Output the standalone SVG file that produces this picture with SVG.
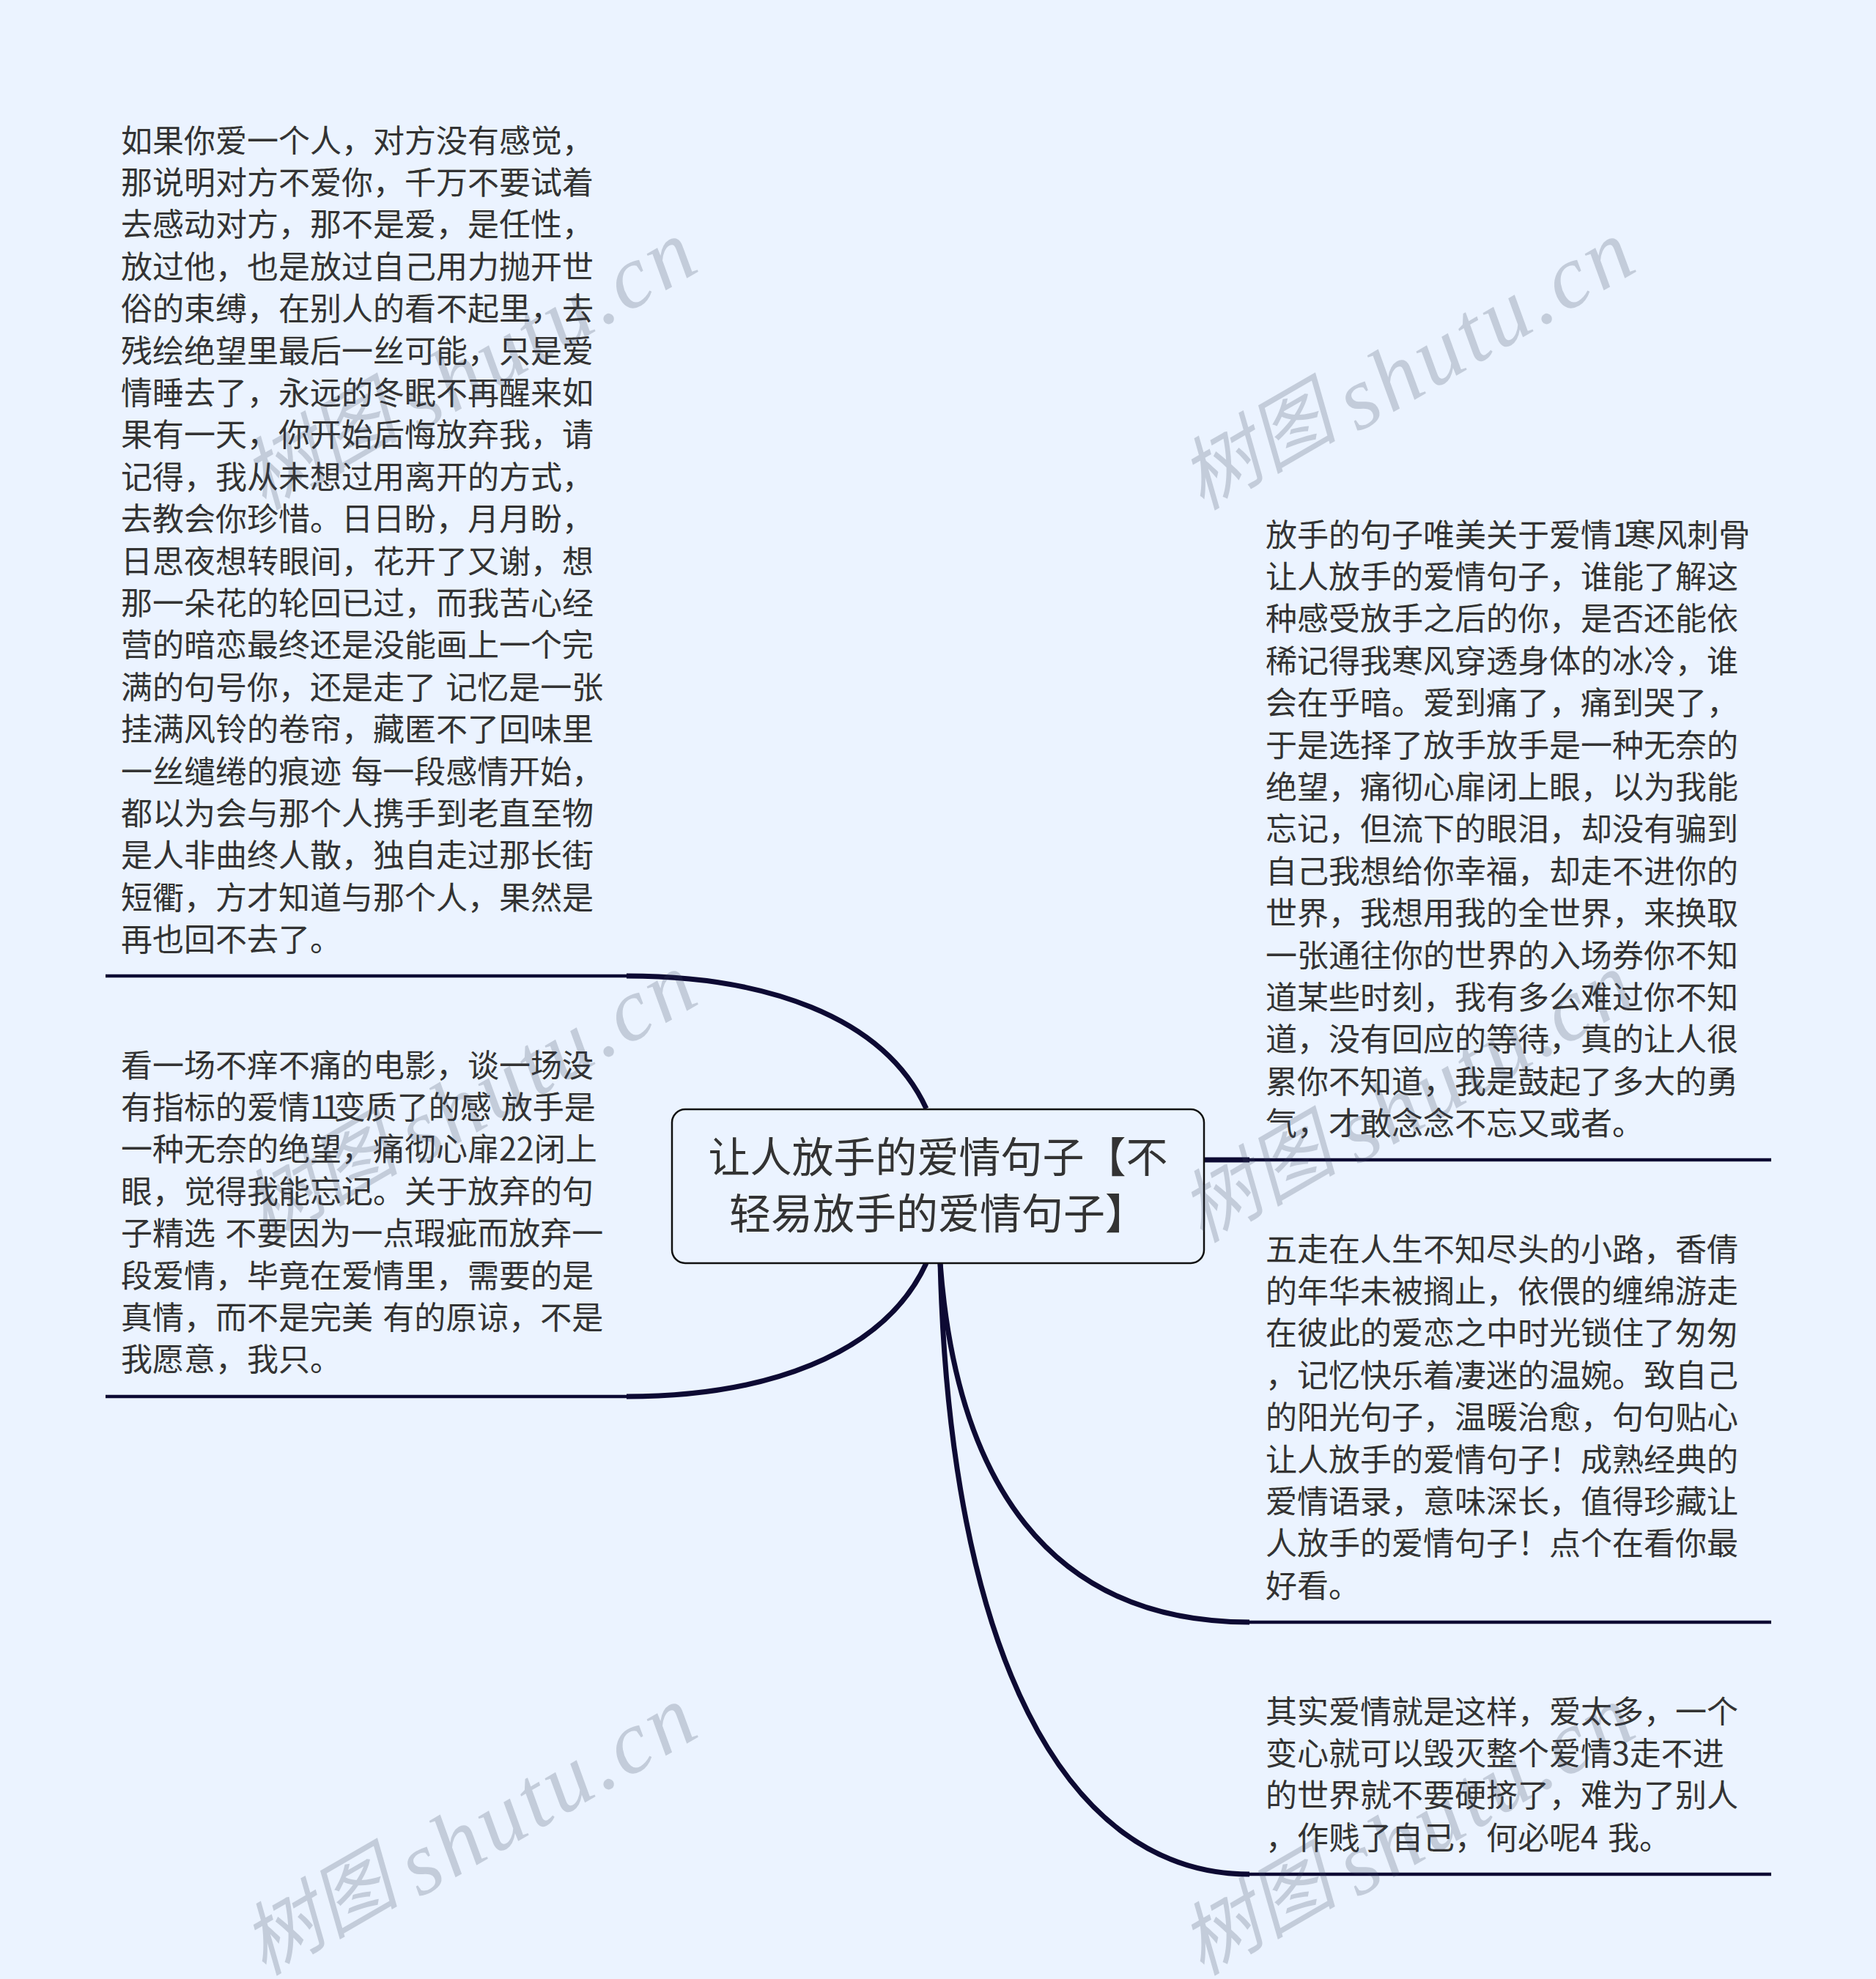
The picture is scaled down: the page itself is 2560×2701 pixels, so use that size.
<svg xmlns="http://www.w3.org/2000/svg" width="2560" height="2701" viewBox="0 0 2560 2701">
<defs>
<style>
.t{font-family:"Noto Sans CJK SC","Liberation Sans",sans-serif;font-size:43px;fill:#333;white-space:pre;word-spacing:3.5px}
.n{letter-spacing:-7.5px}
.r{font-family:"Noto Sans CJK SC","Liberation Sans",sans-serif;font-size:57px;fill:#333;text-anchor:middle}
.w{font-family:"Liberation Serif","Noto Sans CJK SC",serif;font-style:italic;font-size:108px;fill:#38445c;opacity:.22}
.l{font-size:122px;letter-spacing:5px}
.c{fill:none;stroke:#0d0a33;stroke-linecap:butt;stroke-width:7}
.h{fill:none;stroke:#0d0a33;stroke-width:4.5}
</style>
<text id="wm" class="w" transform="rotate(-30)">树图 <tspan class="l" dy="14" dx="-6">shutu.cn</tspan></text>
</defs>
<rect width="2560" height="2701" fill="#ebf3ff"/>
<g id="connectors">
<path class="c" d="M1264 1513C1205 1385 1040 1332 855 1332"/><path class="h" d="M856 1332H144"/>
<path class="c" d="M1264 1724C1205 1852 1040 1906 855 1906"/><path class="h" d="M856 1906H144"/>
<path class="c" d="M1643 1583H1705"/><path class="h" d="M1705 1583H2417"/>
<path class="c" d="M1283 1724C1305 2020 1430 2214 1705 2214"/><path class="h" d="M1705 2214H2417"/>
<path class="c" d="M1283 1724C1296 2250 1450 2558 1705 2558"/><path class="h" d="M1705 2558H2417"/>
</g>
<g id="root">
<rect x="917" y="1514" width="726" height="210" rx="18" fill="#ebf3ff" stroke="#111" stroke-width="2.5"/>
<text class="r" x="1280" y="1600">让人放手的爱情句子【不</text>
<text class="r" x="1280" y="1677">轻易放手的爱情句子】</text>
</g>
<g id="node-left-1" transform="translate(-1 0.5)">
<text class="t" x="166" y="207">如果你爱一个人，对方没有感觉，</text>
<text class="t" x="166" y="264.4">那说明对方不爱你，千万不要试着</text>
<text class="t" x="166" y="321.8">去感动对方，那不是爱，是任性，</text>
<text class="t" x="166" y="379.2">放过他，也是放过自己用力抛开世</text>
<text class="t" x="166" y="436.6">俗的束缚，在别人的看不起里，去</text>
<text class="t" x="166" y="494">残绘绝望里最后一丝可能，只是爱</text>
<text class="t" x="166" y="551.4">情睡去了，永远的冬眠不再醒来如</text>
<text class="t" x="166" y="608.8">果有一天，你开始后悔放弃我，请</text>
<text class="t" x="166" y="666.2">记得，我从未想过用离开的方式，</text>
<text class="t" x="166" y="723.6">去教会你珍惜。日日盼，月月盼，</text>
<text class="t" x="166" y="781">日思夜想转眼间，花开了又谢，想</text>
<text class="t" x="166" y="838.4">那一朵花的轮回已过，而我苦心经</text>
<text class="t" x="166" y="895.8">营的暗恋最终还是没能画上一个完</text>
<text class="t" x="166" y="953.2">满的句号你，还是走了 记忆是一张</text>
<text class="t" x="166" y="1010.6">挂满风铃的卷帘，藏匿不了回味里</text>
<text class="t" x="166" y="1068">一丝缱绻的痕迹 每一段感情开始，</text>
<text class="t" x="166" y="1125.4">都以为会与那个人携手到老直至物</text>
<text class="t" x="166" y="1182.8">是人非曲终人散，独自走过那长街</text>
<text class="t" x="166" y="1240.2">短衢，方才知道与那个人，果然是</text>
<text class="t" x="166" y="1297.6">再也回不去了。</text>
</g>
<g id="node-left-2" transform="translate(-1 0.5)">
<text class="t" x="166" y="1469">看一场不痒不痛的电影，谈一场没</text>
<text class="t" x="166" y="1526.4">有指标的爱情<tspan class="n">11</tspan>变质了的感 放手是</text>
<text class="t" x="166" y="1583.8">一种无奈的绝望，痛彻心扉22闭上</text>
<text class="t" x="166" y="1641.2">眼，觉得我能忘记。关于放弃的句</text>
<text class="t" x="166" y="1698.6">子精选 不要因为一点瑕疵而放弃一</text>
<text class="t" x="166" y="1756">段爱情，毕竟在爱情里，需要的是</text>
<text class="t" x="166" y="1813.4">真情，而不是完美 有的原谅，不是</text>
<text class="t" x="166" y="1870.8">我愿意，我只。</text>
</g>
<g id="node-right-1" transform="translate(-1 0.5)">
<text class="t" x="1728" y="745">放手的句子唯美关于爱情<tspan class="n">1</tspan>寒风刺骨</text>
<text class="t" x="1728" y="802.4">让人放手的爱情句子，谁能了解这</text>
<text class="t" x="1728" y="859.8">种感受放手之后的你，是否还能依</text>
<text class="t" x="1728" y="917.2">稀记得我寒风穿透身体的冰冷，谁</text>
<text class="t" x="1728" y="974.6">会在乎暗。爱到痛了，痛到哭了，</text>
<text class="t" x="1728" y="1032">于是选择了放手放手是一种无奈的</text>
<text class="t" x="1728" y="1089.4">绝望，痛彻心扉闭上眼，以为我能</text>
<text class="t" x="1728" y="1146.8">忘记，但流下的眼泪，却没有骗到</text>
<text class="t" x="1728" y="1204.2">自己我想给你幸福，却走不进你的</text>
<text class="t" x="1728" y="1261.6">世界，我想用我的全世界，来换取</text>
<text class="t" x="1728" y="1319">一张通往你的世界的入场券你不知</text>
<text class="t" x="1728" y="1376.4">道某些时刻，我有多么难过你不知</text>
<text class="t" x="1728" y="1433.8">道，没有回应的等待，真的让人很</text>
<text class="t" x="1728" y="1491.2">累你不知道，我是鼓起了多大的勇</text>
<text class="t" x="1728" y="1548.6">气，才敢念念不忘又或者。</text>
</g>
<g id="node-right-2" transform="translate(-1 0.5)">
<text class="t" x="1728" y="1720">五走在人生不知尽头的小路，香倩</text>
<text class="t" x="1728" y="1777.4">的年华未被搁止，依偎的缠绵游走</text>
<text class="t" x="1728" y="1834.8">在彼此的爱恋之中时光锁住了匆匆</text>
<text class="t" x="1728" y="1892.2">，记忆快乐着凄迷的温婉。致自己</text>
<text class="t" x="1728" y="1949.6">的阳光句子，温暖治愈，句句贴心</text>
<text class="t" x="1728" y="2007">让人放手的爱情句子！成熟经典的</text>
<text class="t" x="1728" y="2064.4">爱情语录，意味深长，值得珍藏让</text>
<text class="t" x="1728" y="2121.8">人放手的爱情句子！点个在看你最</text>
<text class="t" x="1728" y="2179.2">好看。</text>
</g>
<g id="node-right-3" transform="translate(-1 0.5)">
<text class="t" x="1728" y="2351">其实爱情就是这样，爱太多，一个</text>
<text class="t" x="1728" y="2408.4">变心就可以毁灭整个爱情3走不进</text>
<text class="t" x="1728" y="2465.8">的世界就不要硬挤了，难为了别人</text>
<text class="t" x="1728" y="2523.2">，作贱了自己，何必呢4 我。</text>
</g>
<g id="watermarks">
<use href="#wm" transform="translate(1640 697)"/>
<use href="#wm" transform="translate(360 697)"/>
<use href="#wm" transform="translate(1640 1697)"/>
<use href="#wm" transform="translate(360 1697)"/>
<use href="#wm" transform="translate(1640 2697)"/>
<use href="#wm" transform="translate(360 2697)"/>
</g>
</svg>
